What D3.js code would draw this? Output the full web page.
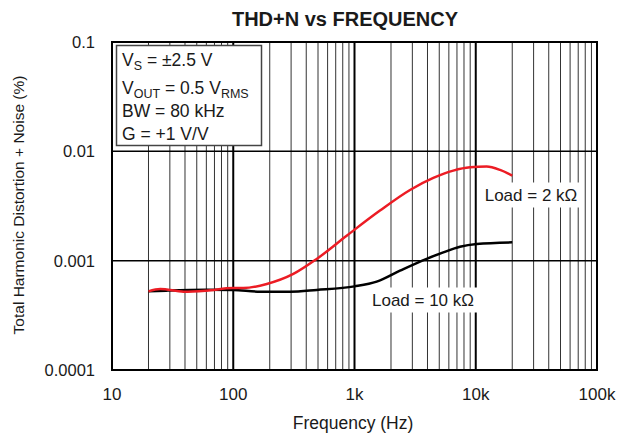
<!DOCTYPE html>
<html><head><meta charset="utf-8">
<script src="https://cdn.jsdelivr.net/npm/d3@7"></script>
<style>body{margin:0;background:#fff}svg{display:block}text{font-family:"Liberation Sans",Arial,Helvetica,sans-serif;fill:#1a1a1a}</style>
</head><body><svg id="c" width="618" height="437"></svg>
<script>
const xTicks = [10, 100, 1000, 10000, 100000];
const xTickLabels = ["10", "100", "1k", "10k", "100k"];
const yTicks = [0.0001, 0.001, 0.01, 0.1];
const yTickLabels = ["0.0001", "0.001", "0.01", "0.1"];
const redFreq = [20, 25, 39, 60, 100, 121, 189, 313, 488, 862, 1622, 2870, 4467, 6530, 8970, 12300, 15850, 20000];
const redVal  = [0.000524, 0.000551, 0.00052, 0.000532, 0.000562, 0.000562, 0.000612, 0.000756, 0.001037, 0.00169, 0.00287, 0.00443, 0.00571, 0.00666, 0.00714, 0.00725, 0.00676, 0.006];
const blackFreq = [20, 28, 60, 100, 166, 294, 488, 1000, 1524, 2371, 3936, 5400, 7410, 10190, 20000];
const blackVal  = [0.000524, 0.000532, 0.000543, 0.00054, 0.00052, 0.00052, 0.00054, 0.000582, 0.000643, 0.00081, 0.00104, 0.00119, 0.00134, 0.00142, 0.00147];

const svg = d3.select("#c");
const L = 112, R = 597, T = 42, B = 370;
const x = d3.scaleLog().domain([10, 100000]).range([L, R]);
const y = d3.scaleLog().domain([0.0001, 0.1]).range([B, T]);

// minor vertical grid
const minor = [];
for (let d = 10; d < 100000; d *= 10) for (let k = 2; k <= 9; k++) minor.push(d * k);
svg.append("g").selectAll("line").data(minor).join("line")
  .attr("x1", d => x(d)).attr("x2", d => x(d)).attr("y1", T).attr("y2", B)
  .attr("stroke", "#333").attr("stroke-width", 1);
// major vertical
svg.append("g").selectAll("line").data(xTicks.slice(1, -1)).join("line")
  .attr("x1", d => x(d)).attr("x2", d => x(d)).attr("y1", T).attr("y2", B)
  .attr("stroke", "#000").attr("stroke-width", 2);
// horizontal
svg.append("g").selectAll("line").data(yTicks.slice(1, -1)).join("line")
  .attr("x1", L).attr("x2", R).attr("y1", d => y(d)).attr("y2", d => y(d))
  .attr("stroke", "#000").attr("stroke-width", 1.5);

// curves
const line = d3.line().curve(d3.curveMonotoneX).x(d => x(d[0])).y(d => y(d[1]));
svg.append("path").datum(blackFreq.map((f, i) => [f, blackVal[i]])).attr("d", line)
  .attr("fill", "none").attr("stroke", "#000").attr("stroke-width", 2.5);
svg.append("path").datum(redFreq.map((f, i) => [f, redVal[i]])).attr("d", line)
  .attr("fill", "none").attr("stroke", "#ec1c24").attr("stroke-width", 2.5);

// curve labels with white background
function label(txt, cx, cy) {
  const g = svg.append("g");
  const r = g.append("rect").attr("fill", "#fff");
  const t = g.append("text").attr("x", cx).attr("y", cy).attr("text-anchor", "middle")
    .attr("dominant-baseline", "central").attr("font-size", 17).text(txt);
  const bb = t.node().getBBox();
  r.attr("x", bb.x - 4).attr("y", bb.y - 3).attr("width", bb.width + 8).attr("height", bb.height + 6);
}
label("Load = 2 k\u03A9", 531, 195);
label("Load = 10 k\u03A9", 423, 300);

// frame
svg.append("rect").attr("x", L).attr("y", T).attr("width", R - L).attr("height", B - T)
  .attr("fill", "none").attr("stroke", "#000").attr("stroke-width", 2);

// condition box
svg.append("rect").attr("x", 116.5).attr("y", 45.5).attr("width", 145).attr("height", 100)
  .attr("fill", "#fff").attr("stroke", "#444").attr("stroke-width", 1.5);
const box = svg.append("g").attr("font-size", 17.5);
function sub(t, main, s) { t.append("tspan").text(main); t.append("tspan").attr("font-size", 12.5).attr("dy", 4).text(s); }
let t1 = box.append("text").attr("x", 122).attr("y", 66);
sub(t1, "V", "S"); t1.append("tspan").attr("dy", -4).text(" = \u00B12.5 V");
let t2 = box.append("text").attr("x", 122).attr("y", 94);
sub(t2, "V", "OUT"); t2.append("tspan").attr("dy", -4).text(" = 0.5 V");
t2.append("tspan").attr("font-size", 12.5).attr("dy", 4).text("RMS");
box.append("text").attr("x", 122).attr("y", 117).text("BW = 80 kHz");
box.append("text").attr("x", 122).attr("y", 140).text("G = +1 V/V");

// tick labels
svg.append("g").selectAll("text").data(xTicks).join("text")
  .attr("x", d => x(d)).attr("y", 400).attr("text-anchor", "middle").attr("font-size", 17)
  .text((d, i) => xTickLabels[i]);
svg.append("g").selectAll("text").data(yTicks).join("text")
  .attr("x", 95).attr("y", d => y(d)).attr("text-anchor", "end").attr("dominant-baseline", "central")
  .attr("font-size", 16.5).text((d, i) => yTickLabels[i]);

// titles
svg.append("text").attr("x", 345).attr("y", 26).attr("text-anchor", "middle")
  .attr("font-size", 20).attr("font-weight", "bold").text("THD+N vs FREQUENCY");
svg.append("text").attr("x", 353).attr("y", 429).attr("text-anchor", "middle")
  .attr("font-size", 17.5).text("Frequency (Hz)");
svg.append("text").attr("transform", "translate(24,205) rotate(-90)").attr("text-anchor", "middle")
  .attr("font-size", 15.5).text("Total Harmonic Distortion + Noise (%)");
</script></body></html>
